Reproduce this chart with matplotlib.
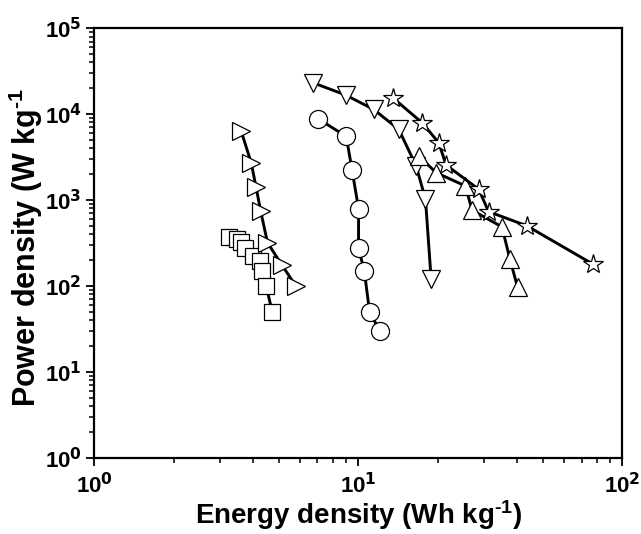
import numpy as np
import matplotlib
matplotlib.use("Agg")
import matplotlib.pyplot as plt
from matplotlib.ticker import LogLocator, NullFormatter

plt.rcParams["font.family"] = ["Liberation Sans", "DejaVu Sans"]
plt.rcParams["font.weight"] = "bold"
plt.rcParams["mathtext.fontset"] = "custom"
plt.rcParams["mathtext.rm"] = "Liberation Sans:bold"
plt.rcParams["mathtext.bf"] = "Liberation Sans:bold"
plt.rcParams["mathtext.default"] = "regular"

# ── Data (Energy density Wh/kg, Power density W/kg) ──────────────────────────
sq_e = [3.23, 3.48, 3.61, 3.73, 4.00, 4.24, 4.31, 4.48, 4.72]
sq_p = [372, 355, 322, 274, 222, 196, 149, 99, 50]

rt_e = [3.60, 3.93, 4.10, 4.27, 4.53, 5.13, 5.81]
rt_p = [6360, 2720, 1413, 739, 319, 176, 99]

ci_e = [7.02, 9.00, 9.47, 10.02, 10.02, 10.53, 11.03, 12.05]
ci_p = [8900, 5500, 2230, 795, 273, 151, 50, 30]

dn_e = [6.74, 8.96, 11.42, 14.23, 16.56, 17.96, 18.87]
dn_p = [23200, 16700, 11370, 6660, 2490, 1020, 120]

up_e = [16.94, 19.71, 25.43, 26.96, 34.99, 37.5, 40.1]
up_p = [3260, 2083, 1459, 761, 487, 205, 96]

st_e = [13.51, 17.45, 20.16, 21.50, 28.55, 31.14, 43.5, 77.4]
st_p = [15520, 7940, 4650, 2560, 1336, 733, 500, 179]

series = [
    (sq_e, sq_p, "s", 11.5),
    (rt_e, rt_p, ">", 13),
    (ci_e, ci_p, "o", 13),
    (dn_e, dn_p, "v", 13),
    (up_e, up_p, "^", 13),
    (st_e, st_p, "*", 15),
]

fig = plt.figure(figsize=(6.41, 5.34), dpi=100)
ax = fig.add_axes([0.147, 0.143, 0.824, 0.804])

for e, p, m, ms in series:
    ax.plot(e, p, "-", color="black", lw=2.1, marker=m, ms=ms,
            mfc="white", mec="black", mew=0.9)

ax.set_xscale("log")
ax.set_yscale("log")
ax.set_xlim(1, 100)
ax.set_ylim(1, 1e5)

ax.xaxis.set_minor_locator(LogLocator(base=10, subs=np.arange(2, 10), numticks=20))
ax.yaxis.set_minor_locator(LogLocator(base=10, subs=np.arange(2, 10), numticks=20))
ax.xaxis.set_minor_formatter(NullFormatter())
ax.yaxis.set_minor_formatter(NullFormatter())

ax.set_xticks([1, 10, 100])
ax.set_xticklabels([r"$10^{\mathsf{%d}}$" % k for k in range(3)])
ax.set_yticks([1, 10, 100, 1e3, 1e4, 1e5])
ax.set_yticklabels([r"$10^{\mathsf{%d}}$" % k for k in range(6)])

for s in ax.spines.values():
    s.set_linewidth(1.6)
ax.tick_params(which="major", direction="out", length=6, width=1.3,
               labelsize=16, pad=3)
ax.tick_params(axis="x", which="major", pad=5)
ax.tick_params(which="minor", direction="out", length=3.5, width=1.1)

sup = "\u2010" + "1"
ax.set_xlabel("Energy density (Wh kg$^{%s}$)" % sup, fontsize=20,
              fontweight="bold", labelpad=0)
# closing bracket is cut off in the original figure
ax.set_ylabel("Power density (W kg$^{%s}$" % sup, fontsize=22,
              fontweight="bold")
ax.yaxis.set_label_coords(-0.093, 0.49)

fig.savefig("out.png", dpi=100)
